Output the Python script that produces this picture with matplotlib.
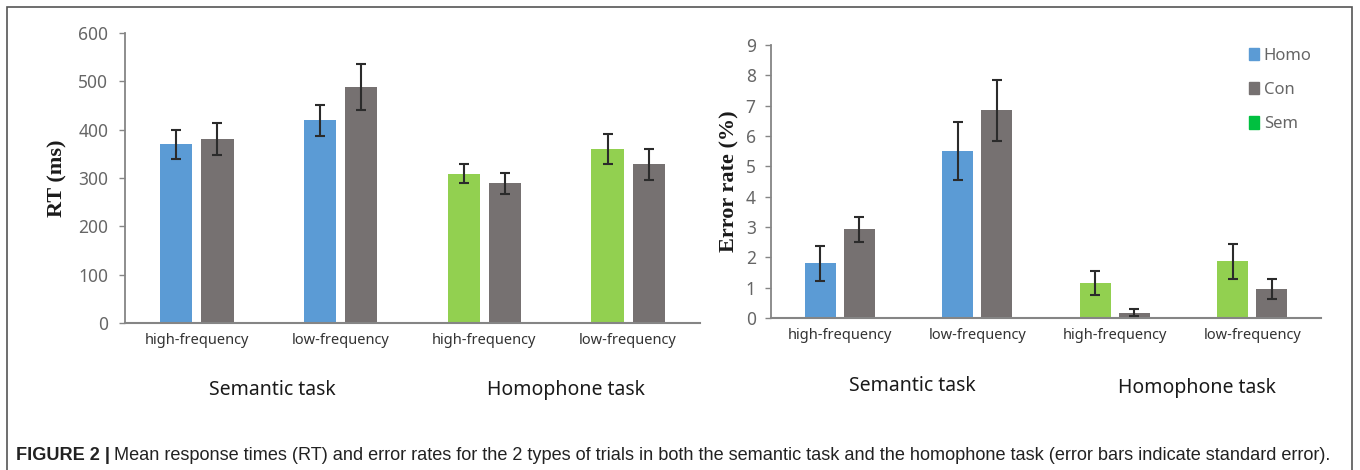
import matplotlib
matplotlib.use("Agg")
import matplotlib.pyplot as plt
from matplotlib.patches import Patch, Rectangle
import numpy as np

# ---------------- data ----------------
freq_labels = ["high-frequency", "low-frequency", "high-frequency", "low-frequency"]
task_labels = ["Semantic task", "Homophone task"]

# RT (ms): first bar of each pair (Homo for semantic task, Sem for homophone task), second bar = Con
rt_first = [370, 419, 309, 360]
rt_first_err = [30, 33, 20, 32]
rt_con = [380, 488, 289, 328]
rt_con_err = [33, 47, 22, 32]

# Error rate (%)
er_first = [1.8, 5.5, 1.15, 1.87]
er_first_err = [0.58, 0.95, 0.40, 0.57]
er_con = [2.92, 6.85, 0.18, 0.95]
er_con_err = [0.41, 1.0, 0.11, 0.33]

legend_labels = ["Homo", "Con", "Sem"]

# ---------------- styling ----------------
BLUE = "#5B9BD5"
GRAY = "#767171"
GREEN = "#92D050"
SEM_LEG = "#00C040"
first_colors = [BLUE, BLUE, GREEN, GREEN]
SPINE = "#858585"
TICK_TXT = "#666666"

W, H = 1360, 470
fig = plt.figure(figsize=(W / 100, H / 100), dpi=100)

sans = ["Noto Sans", "DejaVu Sans"]
serif = ["Liberation Serif", "DejaVu Serif"]


def px_rect(x0, y_top, x1, y_bot):
    return [x0 / W, 1 - y_bot / H, (x1 - x0) / W, (y_bot - y_top) / H]


def draw_panel(ax, first, first_err, con, con_err, ylim, yticks, ylabel, bw, off, ysize):
    x = np.arange(4) + 0.5
    ax.bar(x - off, first, width=bw, color=first_colors, zorder=2)
    ax.bar(x + off, con, width=bw, color=GRAY, zorder=2)
    ek = dict(fmt="none", ecolor="#2b2b2b", elinewidth=1.5, capsize=3.5, capthick=1.5, zorder=3)
    ax.errorbar(x - off, first, yerr=first_err, **ek)
    ax.errorbar(x + off, con, yerr=con_err, **ek)
    ax.set_xlim(0, 4)
    ax.set_ylim(*ylim)
    ax.set_yticks(yticks)
    ax.set_yticklabels([str(t) for t in yticks], fontsize=ysize, color=TICK_TXT, family=sans)
    ax.set_xticks(x)
    ax.set_xticklabels(freq_labels, fontsize=10.5, color="#333333", family=sans)
    ax.tick_params(axis="x", length=0, pad=7)
    ax.tick_params(axis="y", length=4, width=1, color=SPINE, pad=8)
    for s in ["top", "right"]:
        ax.spines[s].set_visible(False)
    ax.spines["left"].set_color(SPINE)
    ax.spines["bottom"].set_color(SPINE)
    ax.spines["left"].set_linewidth(1.3)
    ax.spines["bottom"].set_linewidth(1.5)
    ax.set_ylabel(ylabel, fontsize=16, family=serif, fontweight="bold", color="#1a1a1a")


# left panel
ax1 = fig.add_axes(px_rect(125, 33, 700, 323))
draw_panel(ax1, rt_first, rt_first_err, rt_con, rt_con_err, (0, 600),
           [0, 100, 200, 300, 400, 500, 600], "RT (ms)", 0.225, 0.143, 12.5)
ax1.yaxis.set_label_coords(-0.1, 0.5)

# right panel
ax2 = fig.add_axes(px_rect(771, 45, 1321, 318))
draw_panel(ax2, er_first, er_first_err, er_con, er_con_err, (0, 9),
           list(range(10)), "Error rate (%)", 0.225, 0.142, 12.5)
ax2.tick_params(axis="y", pad=7)
ax2.yaxis.set_label_coords(-0.058, 0.5)

handles = [Patch(color=BLUE), Patch(color=GRAY), Patch(color=SEM_LEG)]
ax2.legend(handles, legend_labels, loc="upper right", bbox_to_anchor=(1.01, 1.045),
           frameon=False, handlelength=0.6, handleheight=0.75, handletextpad=0.3,
           labelspacing=1.1, prop={"family": sans, "size": 12}, labelcolor=TICK_TXT)

# group labels
fig.text(272 / W, 1 - 390 / H, task_labels[0], ha="center", va="center", fontsize=14,
         family=sans, color="#1a1a1a")
fig.text(566 / W, 1 - 390 / H, task_labels[1], ha="center", va="center", fontsize=14,
         family=sans, color="#1a1a1a")
fig.text(912 / W, 1 - 386 / H, task_labels[0], ha="center", va="center", fontsize=14,
         family=sans, color="#1a1a1a")
fig.text(1197 / W, 1 - 388 / H, task_labels[1], ha="center", va="center", fontsize=14,
         family=sans, color="#1a1a1a")

# outer frame
fig.add_artist(Rectangle((7 / W, -0.05), (1352 - 7) / W, 1.05 - 7 / H,
                         transform=fig.transFigure, fill=False, edgecolor="#555555",
                         linewidth=1.2))

# caption
cap_font = ["Liberation Sans", "DejaVu Sans"]
t1 = fig.text(16 / W, 1 - 455 / H, "FIGURE 2 |", ha="left", va="center", fontsize=13.1,
              family=cap_font, fontweight="bold", color="#222222")
fig.canvas.draw()
bb = t1.get_window_extent(fig.canvas.get_renderer())
fig.text(bb.x1 / W + 4 / W, 1 - 455 / H,
         "Mean response times (RT) and error rates for the 2 types of trials in both the semantic task "
         "and the homophone task (error bars indicate standard error).",
         ha="left", va="center", fontsize=13.1, family=cap_font, color="#222222")

fig.savefig("out.png", dpi=100)
